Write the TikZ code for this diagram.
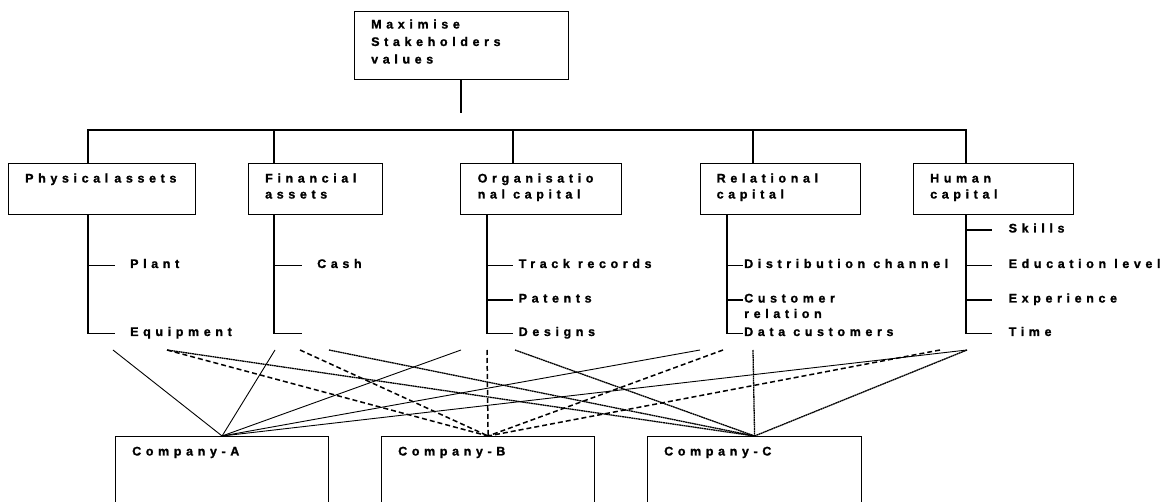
\documentclass[tikz,border=0pt]{standalone}
\usepackage{fontspec}
\newfontfamily\lblfont{Liberation Sans}[LetterSpace=37, BoldFeatures={FakeBold=1.2}]
\begin{document}
\begin{tikzpicture}[x=1pt,y=-1pt,
  lbl/.style={font=\lblfont\bfseries\fontsize{12.5}{14}\selectfont, anchor=base west, inner sep=0pt},
  boxx/.style={draw, line width=1.2pt, rectangle, inner sep=0pt, anchor=north west},
  tree/.style={line width=1.2pt},
  solidc/.style={line width=0.9pt},
  dashc/.style={line width=1.5pt, dash pattern=on 5pt off 3pt},
  dotc/.style={line width=1.3pt, dash pattern=on 1.8pt off 0.5pt}]
\useasboundingbox (0,0) rectangle (1171,502);

% top box
\node[boxx, minimum width=214pt, minimum height=68pt] (top) at (354,11) {};
\node[lbl] (t1) at (371,28.5) {Maximise};
\node[lbl] (t2) at (371,46) {Stakeholders};
\node[lbl] (t3) at (371,63.5) {values};
\coordinate (topend) at (461,113);
\draw[tree] (top.south -| topend) -- (topend);

% category boxes
\node[boxx, minimum width=187.3pt, minimum height=51pt] (phys) at (7.7,163) {};
\node[boxx, minimum width=133.5pt, minimum height=51pt] (fin) at (248,163) {};
\node[boxx, minimum width=160.7pt, minimum height=51pt] (org) at (460,163) {};
\node[boxx, minimum width=160pt, minimum height=51pt] (rel) at (700,163) {};
\node[boxx, minimum width=160.5pt, minimum height=51pt] (hum) at (912.5,163) {};

\node[lbl] (physT) at (25,182.5) {Physical\hspace{-2pt} assets};
\node[lbl] (finT1) at (265,182.5) {Financial};
\node[lbl] (finT2) at (265,198.5) {assets};
\node[lbl] (orgT1) at (477.5,182.5) {Organisatio};
\node[lbl] (orgT2) at (477.5,198.5) {nal capital};
\node[lbl] (relT1) at (716.5,182.5) {Relational};
\node[lbl] (relT2) at (716.5,198.5) {capital};
\node[lbl] (humT1) at (930,182.5) {Human};
\node[lbl] (humT2) at (930,198.5) {capital};

% bus
\coordinate (bP) at (88,130);
\coordinate (bF) at (274,130);
\coordinate (bO) at (513,130);
\coordinate (bR) at (753,130);
\coordinate (bH) at (966,130);
\draw[tree] (bP |- phys.north) -- (bP) -- (bH) -- (bH |- hum.north);
\draw[tree] (bF) -- (bF |- fin.north);
\draw[tree] (bO) -- (bO |- org.north);
\draw[tree] (bR) -- (bR |- rel.north);

% sub items
\node[lbl] (plant) at (130,268) {Plant};
\node[lbl] (equip) at (130,336) {Equipment};
\node[lbl] (cash) at (317,268) {Cash};
\node[lbl] (track) at (518.5,268) {Track records};
\node[lbl] (patents) at (518.5,302.5) {Patents};
\node[lbl] (designs) at (518.5,336) {Designs};
\node[lbl] (distr) at (744,268) {Distribution channel};
\node[lbl] (cust1) at (744,302.5) {Customer};
\node[lbl] (cust2) at (744,318) {relation};
\node[lbl] (datac) at (744,336) {Data customers};
\node[lbl] (skills) at (1008.5,232.5) {Skills};
\node[lbl] (educ) at (1008.5,268) {Education level};
\node[lbl] (exper) at (1008.5,302.5) {Experience};
\node[lbl] (timeT) at (1008.5,336) {Time};

% brackets
\coordinate (vP) at (88,333.5);
\draw[tree] (vP |- phys.south) -- (vP) -- ++(27,0);
\draw[tree] (88,265.5) -- ++(27,0);
\coordinate (vF) at (274,333.5);
\draw[tree] (vF |- fin.south) -- (vF) -- ++(28,0);
\draw[tree] (274,265.5) -- ++(28,0);
\coordinate (vO) at (487,333.5);
\draw[tree] (vO |- org.south) -- (vO) -- ++(26,0);
\draw[tree] (487,265.5) -- ++(26,0);
\draw[tree] (487,300) -- ++(26,0);
\coordinate (vR) at (727,333.5);
\draw[tree] (vR |- rel.south) -- (vR) -- ++(16,0);
\draw[tree] (727,265.5) -- ++(16,0);
\draw[tree] (727,300) -- ++(16,0);
\coordinate (vH) at (966,333.5);
\draw[tree] (vH |- hum.south) -- (vH) -- ++(26,0);
\draw[tree] (966,230) -- ++(26,0);
\draw[tree] (966,265.5) -- ++(26,0);
\draw[tree] (966,300) -- ++(26,0);

% companies
\node[boxx, minimum width=213pt, minimum height=90pt] (cA) at (115,436) {};
\node[boxx, minimum width=213pt, minimum height=90pt] (cB) at (381,436) {};
\node[boxx, minimum width=214pt, minimum height=90pt] (cC) at (647,436) {};
\node[lbl] (cAT) at (132,455.5) {Company-A};
\node[lbl] (cBT) at (398,455.5) {Company-B};
\node[lbl] (cCT) at (664,455.5) {Company-C};

% connector ends
\coordinate (pS) at (113,350);
\coordinate (pD) at (167,350);
\coordinate (fS) at (275,350);
\coordinate (fD) at (300,350);
\coordinate (fT) at (329,350);
\coordinate (oS) at (461,350);
\coordinate (oD) at (487,350);
\coordinate (oT) at (515,350);
\coordinate (rS) at (700,350);
\coordinate (rD) at (723,350);
\coordinate (rT) at (753,350);
\coordinate (hS) at (967,350);
\coordinate (hD) at (940,350);

% solid to A
\foreach \p in {pS,fS,oS,rS,hS} \draw[solidc] (\p) -- (cA.north);
% dashed to B
\foreach \p in {pD,fD,oD,rD,hD} \draw[dashc] (\p) -- (cB.north);
% dotted to C
\foreach \p in {pD,fT,oT,rT,hS} \draw[dotc] (\p) -- (cC.north);
\end{tikzpicture}
\end{document}
